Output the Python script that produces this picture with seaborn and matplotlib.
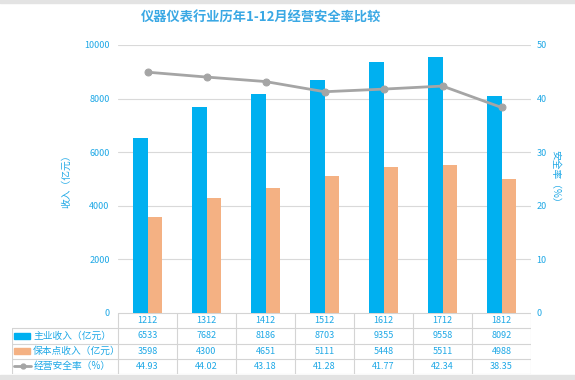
import numpy as np
import pandas as pd
import seaborn as sns
import matplotlib.pyplot as plt
from matplotlib.patches import Rectangle
from matplotlib.lines import Line2D

years = ['1212', '1312', '1412', '1512', '1612', '1712', '1812']
main_income = [6533, 7682, 8186, 8703, 9355, 9558, 8092]
breakeven_income = [3598, 4300, 4651, 5111, 5448, 5511, 4988]
safety_rate = [44.93, 44.02, 43.18, 41.28, 41.77, 42.34, 38.35]
rate_labels = ['44.93', '44.02', '43.18', '41.28', '41.77', '42.34', '38.35']

series_names = ['主业收入（亿元）', '保本点收入（亿元）', '经营安全率（%）']
title = '仪器仪表行业历年1-12月经营安全率比较'

blue = '#00B0F0'
orange = '#F4B183'
gray = '#A5A5A5'
txt = '#1EA8E6'
grid = '#D9D9D9'

sns.set_style('white')
plt.rcParams['font.family'] = ['Noto Sans CJK SC', 'DejaVu Sans']

W, H = 575, 380
fig = plt.figure(figsize=(W / 100, H / 100), dpi=100)

# screenshot frame strips
fig.patches.append(Rectangle((0, 1 - 3 / H), 1, 3 / H, transform=fig.transFigure, color='#E3E3E3', zorder=0))
fig.patches.append(Rectangle((0, 0), 1, 5 / H, transform=fig.transFigure, color='#E3E3E3', zorder=0))

x0, x1, ytop, ybot = 118, 531, 45, 313
ax = fig.add_axes([x0 / W, (H - ybot) / H, (x1 - x0) / W, (ybot - ytop) / H])

df = pd.DataFrame({'年份': years, series_names[0]: main_income, series_names[1]: breakeven_income})
dfm = df.melt('年份', var_name='项目', value_name='收入')
sns.barplot(data=dfm, x='年份', y='收入', hue='项目', palette=[blue, orange],
            width=0.48, gap=0, saturation=1, linewidth=0, edgecolor='none',
            ax=ax, legend=False)
ax.set_ylim(0, 10000)
ax.set_xlim(-0.5, 6.5)
ax.set_yticks(range(0, 10001, 2000))
ax.set_xticks([])
ax.set_xlabel('')
ax.set_ylabel('收入（亿元）', color=txt, fontsize=7)
ax.yaxis.set_label_coords((71 - x0) / (x1 - x0), 0.5)
ax.tick_params(axis='y', colors=txt, labelsize=6.5, length=0, pad=6)
ax.yaxis.grid(True, color=grid, linewidth=0.8)
ax.set_axisbelow(True)
for s in ax.spines.values():
    s.set_visible(False)

ax2 = ax.twinx()
sns.lineplot(x=np.arange(len(years)), y=safety_rate, ax=ax2, color=gray, linewidth=2,
             marker='o', markersize=5, markeredgecolor=gray)
ax2.set_ylim(0, 50)
ax2.set_xlim(-0.5, 6.5)
ax2.set_yticks(range(0, 51, 10))
ax2.set_ylabel('安全率（%）', color=txt, fontsize=7, rotation=270, labelpad=10)
ax2.yaxis.set_label_coords((560 - x0) / (x1 - x0), 0.5)
ax2.tick_params(axis='y', colors=txt, labelsize=6.5, length=0, pad=4)
for s in ax2.spines.values():
    s.set_visible(False)

fig.text(261 / W, 1 - 18 / H, title, ha='center', va='center', color='#3AA8E4',
         fontsize=9.5, fontweight='bold')

# data table under the plot
tl, tb = 12, 374
lab_w = (x0 - tl) / 59
tax = fig.add_axes([tl / W, (H - tb) / H, (x1 - tl) / W, (tb - ybot) / H])
tax.set_xlim(-0.5 - lab_w, 6.5)
tax.set_ylim(4, 0)
tax.axis('off')
lc = '#D4D4D4'
tax.add_line(Line2D([-0.5, 6.5], [0, 0], color=lc, lw=0.8))
for r in range(1, 5):
    tax.add_line(Line2D([-0.5 - lab_w, 6.5], [r, r], color=lc, lw=0.8))
for k in range(8):
    tax.add_line(Line2D([-0.5 + k, -0.5 + k], [0, 4], color=lc, lw=0.8))
tax.add_line(Line2D([-0.5 - lab_w, -0.5 - lab_w], [1, 4], color=lc, lw=0.8))

rows = [years, [str(v) for v in main_income], [str(v) for v in breakeven_income], rate_labels]
for r, vals in enumerate(rows):
    for i, v in enumerate(vals):
        tax.text(i, r + 0.5, v, ha='center', va='center', color=txt, fontsize=6.5)

lx = -0.5 - lab_w + 0.03
tax.add_patch(Rectangle((lx, 1.3), 0.27, 0.4, color=blue))
tax.add_patch(Rectangle((lx, 2.3), 0.27, 0.4, color=orange))
tax.add_line(Line2D([lx, lx + 0.3], [3.5, 3.5], color=gray, lw=2))
tax.plot([lx + 0.15], [3.5], 'o', color=gray, markersize=3.5)
for r, name in enumerate(series_names):
    tax.text(lx + 0.33, r + 1.5, name, ha='left', va='center', color=txt, fontsize=7)

fig.savefig('out.png', dpi=100)
